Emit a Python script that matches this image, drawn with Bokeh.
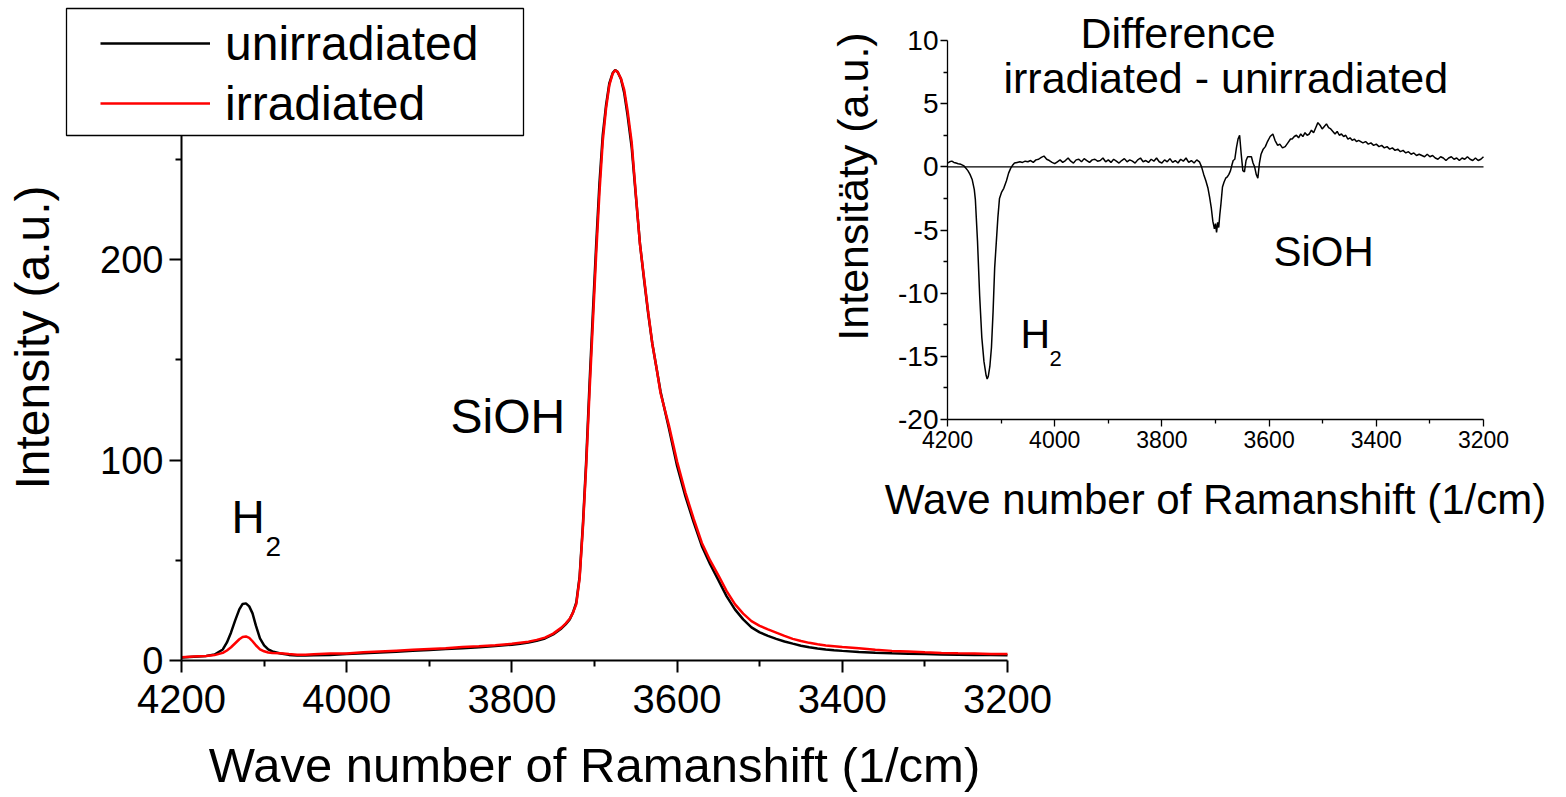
from bokeh.plotting import figure
from bokeh.models import Range1d, LinearAxis, FixedTicker, Label, Legend, LegendItem, BoxAnnotation
from bokeh.embed import file_html
from bokeh.resources import INLINE

# ---------------- data ----------------
# Raman spectra, wave number (1/cm)
wavenumber = [4200, 4190, 4180, 4170, 4160, 4150, 4145, 4140, 4135, 4130, 4126, 4122, 4118, 4114,
              4110, 4105, 4100, 4095, 4090, 4080, 4070, 4060, 4050, 4040, 4020, 4000, 3980, 3960,
              3940, 3920, 3900, 3880, 3860, 3840, 3820, 3800, 3790, 3780, 3770, 3760, 3750, 3745,
              3740, 3735, 3730, 3726, 3722, 3718, 3714, 3710, 3706, 3702, 3698, 3694, 3690, 3686,
              3682, 3678, 3675, 3672, 3668, 3664, 3660, 3655, 3650, 3645, 3640, 3635, 3630, 3625,
              3620, 3610, 3600, 3590, 3580, 3570, 3560, 3550, 3540, 3530, 3520, 3510, 3500, 3490,
              3480, 3470, 3460, 3450, 3440, 3430, 3420, 3410, 3400, 3380, 3360, 3340, 3320, 3300,
              3280, 3260, 3240, 3220, 3200]
unirradiated = [1.5, 1.8, 2.0, 2.3, 3.0, 5.5, 9.0, 14.0, 20.0, 25.5, 28.2, 28.5, 27.0, 23.5,
                17.5, 11.0, 7.5, 5.5, 4.5, 3.5, 2.8, 2.5, 2.5, 2.6, 2.8, 3.2, 3.6, 4.0,
                4.4, 4.8, 5.2, 5.7, 6.1, 6.6, 7.2, 7.9, 8.4, 9.0, 9.8, 11.0, 13.0, 14.5,
                16.0, 18.0, 20.5, 24.0, 29.0, 42.0, 68.0, 100.0, 138.0, 173.0, 207.0, 238.0, 262.0, 277.0,
                288.0, 293.0, 294.5, 293.5, 290.0, 283.0, 272.0, 256.0, 232.0, 208.0, 190.0, 173.0, 158.0, 146.0,
                134.0, 116.0, 97.0, 82.0, 69.0, 57.0, 48.0, 40.0, 32.0, 25.5, 20.5, 16.5, 14.0, 12.3,
                10.8, 9.5, 8.4, 7.4, 6.6, 6.0, 5.5, 5.1, 4.8, 4.3, 3.9, 3.6, 3.4, 3.2,
                3.0, 2.9, 2.8, 2.7, 2.6]
irradiated = [1.6, 1.9, 2.1, 2.3, 2.7, 3.8, 5.0, 6.6, 8.6, 10.6, 11.7, 12.0, 11.3, 9.6,
              7.6, 5.6, 4.6, 4.0, 3.7, 3.6, 3.2, 2.9, 2.9, 3.1, 3.5, 3.5, 4.1, 4.5,
              4.9, 5.3, 5.7, 6.1, 6.7, 7.1, 7.6, 8.3, 8.9, 9.4, 10.3, 11.4, 13.4, 14.9,
              16.4, 18.4, 20.8, 23.9, 28.2, 41.0, 66.5, 97.5, 134.0, 168.2, 202.4, 233.3, 259.0, 275.4,
              287.0, 292.7, 294.4, 293.6, 290.3, 284.6, 274.3, 258.5, 232.8, 207.8, 190.8, 173.8, 158.0, 146.2,
              133.3, 117.4, 99.2, 83.9, 70.7, 58.6, 49.9, 42.5, 34.6, 28.1, 23.4, 19.6, 17.3, 15.5,
              13.9, 12.3, 10.8, 9.7, 8.8, 8.1, 7.5, 7.1, 6.7, 6.1, 5.4, 4.8, 4.5, 4.1,
              3.8, 3.6, 3.5, 3.2, 3.3]

# Difference spectrum irradiated - unirradiated (inset)
diff_wavenumber = [4200, 4196, 4192, 4188, 4184, 4180, 4175, 4170, 4166, 4162, 4158, 4154, 4150, 4148,
                   4144, 4140, 4136, 4132, 4128, 4126, 4124, 4121, 4118, 4115, 4112, 4109, 4106, 4103,
                   4099, 4095, 4090, 4086, 4082, 4079, 4075, 4070, 4065, 4060, 4055, 4050, 4045, 4040,
                   4035, 4030, 4025, 4020, 4015, 4010, 4005, 4000,
                   3995, 3990, 3985, 3980, 3975, 3970, 3965, 3960, 3955, 3950, 3945, 3940, 3935, 3930,
                   3925, 3920, 3915, 3910, 3905, 3900, 3895, 3890, 3885, 3880, 3875, 3870, 3865, 3860,
                   3855, 3850, 3845, 3840, 3835, 3830, 3825, 3820, 3815, 3810, 3805, 3800, 3795, 3790,
                   3785, 3780, 3775, 3770, 3765, 3760, 3755, 3750, 3745, 3740, 3735, 3730,
                   3726, 3722, 3718, 3714, 3711, 3708, 3705, 3702, 3700, 3698, 3696, 3694, 3692, 3690,
                   3687, 3684, 3681, 3678, 3675, 3672, 3669, 3667, 3664, 3661, 3658, 3655, 3652, 3649,
                   3646, 3643, 3640, 3637, 3633, 3630, 3627, 3624, 3621, 3618, 3615, 3611, 3607, 3603,
                   3598, 3593, 3589, 3584, 3580, 3575, 3570, 3565, 3560, 3557, 3553, 3549, 3545, 3541,
                   3537, 3533, 3529, 3525, 3521, 3517, 3513, 3509, 3505, 3501, 3497, 3493, 3489, 3485,
                   3481, 3477, 3473, 3469, 3465, 3461, 3457, 3453, 3449, 3445, 3441, 3437, 3433, 3429,
                   3425, 3420, 3415, 3410, 3405, 3400, 3395, 3390, 3385, 3380, 3375, 3370, 3365, 3360,
                   3355, 3350, 3345, 3340, 3335, 3330, 3325, 3320, 3315, 3310, 3305, 3300, 3295, 3290,
                   3285, 3280, 3275, 3270, 3265, 3260, 3255, 3250, 3245, 3240, 3235, 3230, 3225, 3220,
                   3215, 3210, 3205, 3200]
difference = [0.3, 0.4, 0.45, 0.35, 0.3, 0.25, 0.2, 0.1, -0.1, -0.3, -0.6, -1.0, -1.8, -2.6,
              -5.9, -10.2, -13.5, -15.4, -16.5, -16.8, -16.6, -15.8, -14.3, -11.5, -8.0, -6.0, -4.0, -2.5,
              -2.0, -1.7, -1.1, -0.5, -0.1, 0.1, 0.3, 0.35, 0.4, 0.35, 0.45, 0.4, 0.5, 0.35,
              0.55, 0.6, 0.75, 0.85, 0.6, 0.5, 0.35, 0.25,
              0.4, 0.55, 0.35, 0.5, 0.7, 0.45, 0.3, 0.55, 0.6, 0.4, 0.65, 0.5, 0.35, 0.55,
              0.6, 0.45, 0.5, 0.7, 0.4, 0.55, 0.35, 0.6, 0.45, 0.3, 0.5, 0.65, 0.4, 0.55,
              0.45, 0.3, 0.55, 0.7, 0.4, 0.5, 0.35, 0.6, 0.45, 0.7, 0.4, 0.3, 0.55, 0.4,
              0.65, 0.35, 0.5, 0.3, 0.6, 0.45, 0.7, 0.35, 0.5, 0.3, 0.55, 0.4,
              0.0, -0.6, -1.1, -1.7, -2.4, -3.2, -4.3, -4.9, -4.5, -5.2, -4.4, -4.8, -3.8, -3.0,
              -1.6, -1.2, -0.9, -0.8, -0.6, -0.3, 0.2, 0.5, 0.6, 1.5, 2.2, 2.5, 1.0, -0.3,
              -0.4, 0.5, 0.8, 0.8, 0.8, 0.3, 0.0, -0.6, -0.9, 0.3, 1.0, 1.4, 1.6, 2.0,
              2.4, 2.6, 2.1, 1.7, 1.8, 1.5, 1.6, 1.9, 2.2, 2.2, 2.4, 2.5, 2.3, 2.6,
              2.4, 2.7, 2.5, 2.6, 2.9, 2.7, 3.1, 3.5, 3.3, 3.0, 3.2, 3.4, 3.1, 3.0,
              2.8, 2.6, 2.8, 2.5, 2.6, 2.4, 2.5, 2.2, 2.3, 2.1, 2.2, 2.0, 2.1, 2.0,
              1.9, 2.0, 1.8, 1.9, 1.7, 1.8, 1.6, 1.7, 1.5, 1.6, 1.4, 1.5, 1.3, 1.4,
              1.2, 1.3, 1.1, 1.2, 1.0, 1.1, 0.9, 1.0, 0.9, 0.8, 1.0, 0.8, 0.9, 0.7,
              0.6, 0.8, 0.7, 0.5, 0.7, 0.8, 0.6, 0.7, 0.5, 0.7, 0.6, 0.8, 0.6, 0.5,
              0.7, 0.5, 0.6, 0.8]
zero_level = [0, 0]

# ticks
main_x_ticks = [4200, 4000, 3800, 3600, 3400, 3200]
main_x_minor = [4100, 3900, 3700, 3500, 3300]
main_y_ticks = [0, 100, 200]
main_y_minor = [50, 150, 250]
main_y_top = 322
inset_x_ticks = [4200, 4000, 3800, 3600, 3400, 3200]
inset_x_minor = [4100, 3900, 3700, 3500, 3300]
inset_y_ticks = [-20, -15, -10, -5, 0, 5, 10]
inset_y_minor = [-17.5, -12.5, -7.5, -2.5, 2.5, 7.5]

# ---------------- layout (screen pixels) ----------------
FONT = "Liberation Sans"
W, H = 1560, 792          # the plotting frame is the whole figure; all axes sit at fixed locations


def mapper(p0, v0, p1, v1):
    k = (v1 - v0) / (p1 - p0)
    return lambda px: v0 + (px - p0) * k


# main plot: 4200 at x=181, 3200 at x=1007; 0 at y=660, 200 at y=259
mx = mapper(181, 4200, 1007, 3200)
my = mapper(660, 0, 259, 200)
# inset: 4200 at x=947, 3200 at x=1483; 10 at y=40, -20 at y=419
ix = mapper(947, 4200, 1483, 3200)
iy = mapper(419, -20, 40, 10)

p = figure(width=W, height=H, output_backend="svg", toolbar_location=None, title=None,
           x_range=Range1d(mx(0), mx(W)), y_range=Range1d(my(H), my(0)),
           x_axis_type=None, y_axis_type=None,
           min_border_left=0, min_border_right=0, min_border_top=0, min_border_bottom=0)
p.extra_x_ranges = {"ix": Range1d(ix(0), ix(W))}
p.extra_y_ranges = {"iy": Range1d(iy(H), iy(0))}
p.outline_line_color = None
p.background_fill_color = "white"
p.border_fill_color = "white"


def style_axis(ax, lw, tick_size, major_out, minor_out, label_standoff, title_size=None, title_standoff=0):
    ax.axis_line_width = lw
    ax.axis_line_color = "black"
    ax.major_tick_line_width = lw
    ax.minor_tick_line_width = lw
    ax.major_tick_line_color = "black"
    ax.minor_tick_line_color = "black"
    ax.major_tick_in = 0
    ax.minor_tick_in = 0
    ax.major_tick_out = major_out
    ax.minor_tick_out = minor_out
    ax.major_label_standoff = label_standoff
    ax.major_label_text_font = FONT
    ax.major_label_text_font_size = tick_size
    ax.major_label_text_color = "black"
    if title_size:
        ax.axis_label_text_font = FONT
        ax.axis_label_text_font_size = title_size
        ax.axis_label_text_font_style = "normal"
        ax.axis_label_text_color = "black"
        ax.axis_label_standoff = title_standoff


# main axes
xa = LinearAxis(fixed_location=min(main_y_ticks),
                ticker=FixedTicker(ticks=main_x_ticks, minor_ticks=main_x_minor),
                bounds=(min(main_x_ticks), max(main_x_ticks)),
                axis_label="Wave number of Ramanshift (1/cm)")
style_axis(xa, 2, "40px", 12, 6, 12, "49px", 22)
p.add_layout(xa, "below")

ya = LinearAxis(fixed_location=max(main_x_ticks),
                ticker=FixedTicker(ticks=main_y_ticks, minor_ticks=main_y_minor),
                bounds=(min(main_y_ticks), main_y_top),
                axis_label="Intensity (a.u.)")
style_axis(ya, 2, "38px", 12, 6, 6, "48px", 38)
p.add_layout(ya, "left")

# inset axes
ixa = LinearAxis(x_range_name="ix", y_range_name="iy", fixed_location=min(inset_y_ticks),
                 bounds=(min(inset_x_ticks), max(inset_x_ticks)),
                 ticker=FixedTicker(ticks=inset_x_ticks, minor_ticks=inset_x_minor),
                 axis_label="Wave number of Ramanshift (1/cm)")
style_axis(ixa, 1.3, "23px", 7, 4, 4, "42px", 25)
p.add_layout(ixa, "below")

iya = LinearAxis(x_range_name="ix", y_range_name="iy", fixed_location=max(inset_x_ticks),
                 bounds=(min(inset_y_ticks), max(inset_y_ticks)),
                 ticker=FixedTicker(ticks=inset_y_ticks, minor_ticks=inset_y_minor),
                 major_label_overrides={t: str(t) for t in inset_y_ticks})
style_axis(iya, 1.3, "28px", 7, 4, 2)
p.add_layout(iya, "left")

# main spectra
r_un = p.line(wavenumber, unirradiated, line_color="black", line_width=2.5)
r_ir = p.line(wavenumber, irradiated, line_color="#ff0000", line_width=2.5)

# inset difference
p.line([diff_wavenumber[0], diff_wavenumber[-1]], zero_level, x_range_name="ix", y_range_name="iy",
       line_color="black", line_width=1.2)
p.line(diff_wavenumber, difference, x_range_name="ix", y_range_name="iy",
       line_color="black", line_width=1.5)

# legend frame (x 66..523, y 8..135) drawn as a box, legend entries on top of it
p.add_layout(BoxAnnotation(left=mx(66), right=mx(523), top=my(8), bottom=my(135),
                           fill_color="white", fill_alpha=1.0,
                           line_color="black", line_width=1.3, line_alpha=1.0))
ITEM_H, ITEM_GAP = 55, 5
legend = Legend(items=[LegendItem(label="unirradiated", renderers=[r_un]),
                       LegendItem(label="irradiated", renderers=[r_ir])],
                location=(100, H - (43 - ITEM_H / 2 + 2 * ITEM_H + ITEM_GAP)))
legend.label_text_font = FONT
legend.label_text_font_size = "48px"
legend.label_text_color = "black"
legend.glyph_width = 110
legend.glyph_height = 20
legend.label_standoff = 15
legend.padding = 0
legend.spacing = ITEM_GAP
legend.margin = 0
legend.border_line_color = None
legend.background_fill_alpha = 0.0
p.add_layout(legend)


def add_text(text, px, py, size, inset=False, angle=0, align="left", baseline="alphabetic"):
    # (px, py): wanted screen position of the text's left end / baseline
    if baseline == "alphabetic":
        py = py - 0.4 * size
    kw = {}
    if inset:
        x, y = ix(px), iy(py)
        kw = {"x_range_name": "ix", "y_range_name": "iy"}
    else:
        x, y = mx(px), my(py)
    p.add_layout(Label(x=x, y=y, text=text, text_font=FONT, text_font_size=f"{size}px", text_color="black",
                       text_align=align, text_baseline=baseline, angle=angle, **kw))


# main annotations
add_text("SiOH", 450, 435, 48)
add_text("H", 231, 535, 46)
add_text("2", 265, 557, 28)

# inset annotations
add_text("Difference", 1080, 50, 43, inset=True)
add_text("irradiated - unirradiated", 1003, 95, 43, inset=True)
add_text("SiOH", 1273, 268, 42, inset=True)
add_text("H", 1020, 350, 41, inset=True)
add_text("2", 1049, 367, 22, inset=True)
add_text("Intensitäty (a.u.)", 852, 186, 43, inset=True, angle=1.5707963267948966,
         align="center", baseline="middle")

open("out.html", "w").write(file_html(p, INLINE))
